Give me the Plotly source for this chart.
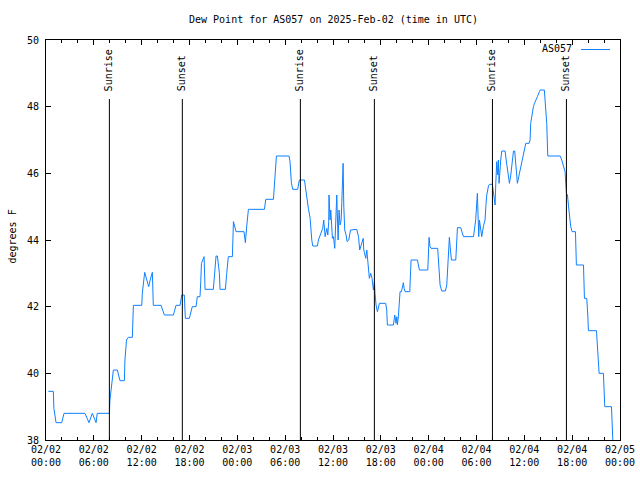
import pandas as pd
import plotly.graph_objects as go

# hours after 2025-02-02 00:00 UTC
hours = [0.30, 0.92, 0.99, 1.26, 1.97, 2.26, 4.89, 5.39, 5.81, 6.28, 6.43, 7.95, 8.02, 8.17, 8.45,
         8.95, 9.28, 9.83, 9.90, 10.10, 10.33, 10.83, 10.96, 12.01, 12.08, 12.38, 12.63, 12.88, 13.07,
         13.34, 13.46, 14.43, 14.85, 15.98, 16.31, 16.82, 17.02, 17.35, 17.48, 17.98, 18.35, 18.82,
         18.98, 19.32, 19.41, 19.50, 19.83, 19.95, 20.99, 21.33, 21.50, 21.75, 21.83, 22.50, 22.67,
         22.87, 23.38, 23.46, 23.51, 23.63, 23.84, 24.84, 25.01, 25.18, 25.26, 25.39, 27.40, 27.57,
         28.53, 28.70, 28.90, 30.49, 30.61, 30.78, 30.95, 31.57, 31.78, 32.42, 32.71, 32.91, 33.13,
         33.21, 33.34, 33.46, 34.05, 34.17, 34.38, 34.59, 34.71, 34.84, 35.01, 35.22, 35.35, 35.46,
         35.50, 35.63, 35.72, 35.93, 36.06, 36.22, 36.33, 36.47, 36.64, 36.76, 36.89, 37.02, 37.10,
         37.27, 37.35, 37.47, 37.64, 37.77, 37.98, 38.19, 38.98, 39.20, 39.35, 39.79, 39.86, 40.11,
         40.24, 40.44, 40.56, 40.73, 40.90, 41.07, 41.20, 41.27, 41.40, 41.57, 41.69, 41.82, 42.61,
         42.74, 42.82, 43.58, 43.74, 43.91, 44.00, 44.08, 44.20, 44.28, 44.41, 44.58, 44.75, 44.83,
         44.92, 45.04, 45.63, 45.67, 45.79, 46.59, 46.76, 46.84, 47.89, 47.97, 48.05, 48.17, 48.30,
         49.13, 49.18, 49.30, 49.43, 49.64, 50.10, 50.27, 50.39, 50.56, 50.60, 50.73, 50.86, 51.40,
         51.48, 51.52, 51.61, 52.02, 52.36, 53.62, 53.74, 53.90, 54.11, 54.28, 54.37, 54.54, 54.66,
         54.86, 55.07, 55.20, 55.29, 55.50, 55.62, 55.99, 56.12, 56.25, 56.33, 56.42, 56.54, 56.67,
         56.75, 56.83, 56.96, 57.04, 57.17, 57.59, 57.72, 57.96, 58.13, 58.30, 58.51, 58.64, 58.79,
         58.88, 59.05, 59.13, 59.30, 59.47, 59.67, 59.80, 59.97, 60.18, 60.60, 60.72, 60.80, 60.97,
         61.14, 61.27, 61.48, 61.64, 61.89, 61.98, 62.51, 62.68, 62.81, 62.94, 64.49, 64.69, 64.90,
         65.11, 65.28, 65.41, 65.53, 65.82, 65.99, 66.41, 66.53, 67.42, 67.54, 67.83, 67.96, 68.04,
         69.05, 69.21, 69.38, 69.92, 70.01, 70.09, 70.93, 71.01, 71.10]

dew_f = [39.46, 39.46, 38.95, 38.52, 38.52, 38.8, 38.8, 38.52, 38.8, 38.52, 38.8, 38.8, 39.2, 39.6, 40.1,
         40.1, 39.78, 39.78, 40.4, 41.0, 41.08, 41.08, 42.04, 42.04, 42.4, 43.03, 42.8, 42.6, 42.8,
         43.03, 42.04, 42.04, 41.75, 41.75, 42.04, 42.04, 42.35, 42.35, 41.65, 41.65, 42.0, 42.0,
         42.3, 42.3, 42.75, 43.3, 43.5, 42.52, 42.52, 43.52, 43.52, 43.0, 42.52, 42.52, 43.0,
         43.5, 43.5, 44.05, 44.55, 44.45, 44.25, 44.25, 43.92, 44.42, 44.75, 44.92, 44.92, 45.22,
         45.22, 45.85, 46.52, 46.52, 46.35, 45.72, 45.52, 45.52, 45.8, 45.8, 45.2, 44.95, 44.65,
         44.3, 44.0, 43.82, 43.82, 44.0, 44.15, 44.25, 44.35, 44.6, 44.1, 44.35, 44.15, 44.55,
         45.35, 44.6, 44.9, 44.05, 44.1, 43.75, 44.45, 45.35, 44.0, 44.9, 44.45, 44.6, 45.1,
         46.3, 45.05, 44.3, 44.15, 43.95, 44.0, 44.3, 44.32, 44.1, 43.7, 44.05, 43.7, 43.45,
         43.7, 43.1, 42.85, 43.0, 42.85, 42.5, 42.75, 42.4, 42.05, 41.85, 42.0, 42.1, 42.1,
         41.9, 41.45, 41.45, 41.75, 41.5, 41.7, 41.45, 41.7, 42.15, 42.45, 42.45, 42.6, 42.72,
         42.55, 42.45, 42.45, 42.7, 43.4, 43.4, 43.15, 43.1, 43.1, 43.55, 44.08, 43.8, 43.75,
         43.75, 43.5, 43.0, 42.65, 42.47, 42.47, 42.65, 43.1, 43.8, 44.08, 43.7, 43.4, 43.4,
         43.8, 44.12, 44.37, 44.37, 44.1, 44.1, 44.35, 44.6, 45.4, 44.1, 44.6, 44.3, 44.1,
         44.4, 44.6, 45.1, 45.35, 45.62, 45.67, 45.67, 45.4, 45.2, 45.05, 45.7, 46.35, 45.95,
         46.4, 45.7, 46.25, 46.4, 46.67, 46.67, 46.4, 45.95, 45.7, 45.95, 46.35, 46.67, 46.67,
         46.4, 45.95, 45.7, 45.9, 46.1, 46.35, 46.5, 46.75, 46.9, 46.9, 47.0, 47.5, 47.8,
         48.0, 48.1, 48.2, 48.3, 48.45, 48.5, 48.5, 47.8, 47.5, 46.52, 46.52, 46.4, 46.25,
         46.05, 45.4, 45.35, 45.05, 44.4, 44.25, 44.25, 43.25, 43.25, 42.25, 42.25, 41.75, 41.28,
         41.28, 40.6, 40.0, 40.0, 39.5, 39.0, 39.0, 38.5, 38.0]

sunrise_hours = [7.95, 31.91, 56.00]
sunset_hours = [17.10, 41.19, 65.28]

series_name = "AS057"
title_text = "Dew Point for AS057 on 2025-Feb-02 (time in UTC)"
y_title = "degrees F"

start = pd.Timestamp("2025-02-02 00:00")
times = [start + pd.Timedelta(hours=h) for h in hours]

FONT = "DejaVu Sans Mono"
BLUE = "#1080ff"

fig = go.Figure()
fig.add_trace(go.Scatter(x=times, y=dew_f, mode="lines", name=series_name,
                         line=dict(color=BLUE, width=1), showlegend=False))

L, R, T, B = 46, 20, 40, 40
PW, PH = 640 - L - R, 480 - T - B

def py(px):
    return (480 - B - px) / PH

def pxx(px):
    return (px - L) / PW

for lab, hs in (("Sunrise", sunrise_hours), ("Sunset", sunset_hours)):
    for h in hs:
        t = start + pd.Timedelta(hours=h)
        fig.add_shape(type="line", xref="x", yref="paper", x0=t, x1=t, y0=0, y1=py(99),
                      line=dict(color="black", width=1))
        fig.add_annotation(x=t, xref="x", y=py(93), yref="paper", text=lab, textangle=-90,
                           showarrow=False, xanchor="center", yanchor="bottom",
                           font=dict(family=FONT, size=10, color="black"))

# legend (gnuplot style: text then line sample)
fig.add_annotation(x=pxx(574), y=py(49), xref="paper", yref="paper", text=series_name,
                   showarrow=False, xanchor="right", yanchor="middle",
                   font=dict(family=FONT, size=10, color="black"))
fig.add_shape(type="line", xref="paper", yref="paper", x0=pxx(581), x1=pxx(610),
              y0=py(49.5), y1=py(49.5), line=dict(color=BLUE, width=1))

fig.add_annotation(x=0.5, y=py(19), xref="paper", yref="paper", text=title_text,
                   showarrow=False, xanchor="center", yanchor="middle",
                   font=dict(family=FONT, size=10, color="black"))
fig.add_annotation(x=pxx(11.5), y=py(237), xref="paper", yref="paper", text=y_title,
                   textangle=-90, showarrow=False, xanchor="center", yanchor="middle",
                   font=dict(family=FONT, size=10, color="black"))

fig.update_layout(
    width=640, height=480, autosize=False,
    margin=dict(l=L, r=R, t=T, b=B, pad=0, autoexpand=False),
    paper_bgcolor="white", plot_bgcolor="white",
    font=dict(family=FONT, size=10, color="black"),
    showlegend=False,
)
fig.update_xaxes(
    range=[start, start + pd.Timedelta(hours=72)], type="date",
    tickmode="linear", tick0=start, dtick=6 * 3600 * 1000,
    tickformat="%m/%d<br>%H:%M",
    ticks="inside", ticklen=5, tickcolor="black", tickwidth=1,
    minor=dict(ticks="inside", ticklen=3, dtick=2 * 3600 * 1000, tick0=start,
               tickcolor="black", showgrid=False),
    showline=True, linecolor="black", linewidth=1, mirror="allticks",
    showgrid=False, zeroline=False, tickangle=0, automargin=False,
)
fig.update_yaxes(
    range=[38, 50], tickmode="linear", tick0=38, dtick=2,
    ticks="inside", ticklen=5, tickcolor="black", tickwidth=1,
    showline=True, linecolor="black", linewidth=1, mirror="allticks",
    showgrid=False, zeroline=False, ticklabelstandoff=4, automargin=False,
)

fig.write_html("out.html")
